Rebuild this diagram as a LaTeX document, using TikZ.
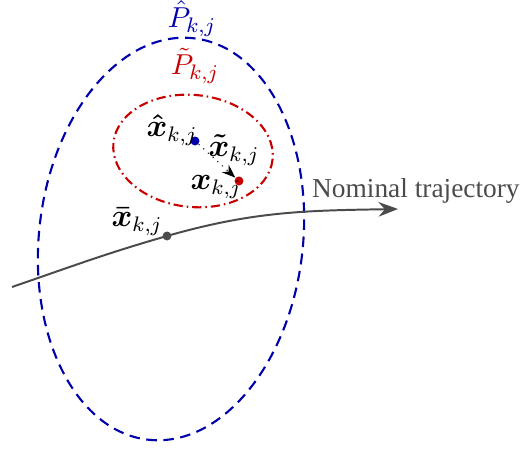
\documentclass[tikz,border=0pt]{standalone}
\usepackage{amsmath,amssymb}
\usepackage{fontspec}
\setmainfont{Liberation Serif}
\usepackage{tikz}
\usetikzlibrary{positioning,arrows.meta,calc}

\definecolor{covblue}{RGB}{0,0,170}
\definecolor{covred}{RGB}{200,0,0}
\definecolor{trajgray}{RGB}{75,75,75}

\begin{document}
\begin{tikzpicture}[
    x=0.38pt, y=-0.38pt,
    lbl/.style={inner sep=1pt, font=\large},
    setlbl/.style={inner sep=0pt, anchor=south, font=\fontsize{11}{13}\selectfont},
    dot/.style={circle, inner sep=0pt, minimum size=3.4pt},
    traj/.style={draw=trajgray, line width=0.75pt, -{Stealth[length=2.6mm]}}
]
\useasboundingbox (0,0) rectangle (523,450);
% uncertainty sets
\coordinate (cblue) at (171,239);
\coordinate (cred) at (193,151);
\draw[covblue, line width=0.8pt, dash pattern=on 4pt off 2.5pt]
    (cblue) ellipse[x radius=132, y radius=202, rotate=-6.5];
\draw[covred, line width=0.8pt, dash pattern=on 3.5pt off 1.5pt on 0.6pt off 1.5pt]
    (cred) ellipse[x radius=80, y radius=56, rotate=-6];
\node[setlbl, covblue] (Phat) at (192,37) {$\hat{P}_{k,j}$};
\node[setlbl, covred] (Ptil) at (195,84) {$\tilde{P}_{k,j}$};

% states
\node[dot, fill=covblue] (xhat) at (195,141) {};
\node[dot, fill=covred] (xtrue) at (239,181) {};
\draw[dotted, thin, -{Stealth[length=1.8mm]}] (xhat) -- (xtrue);
\node[lbl] (xhatlbl) at (172,130) {$\boldsymbol{\hat{x}}_{k,j}$};
\node[lbl] (xtil) at (234,150) {$\boldsymbol{\tilde{x}}_{k,j}$};
\node[lbl] (xlbl) at (216,187) {$\boldsymbol{x}_{k,j}$};

% nominal trajectory
\coordinate (tstart) at (12,287);
\coordinate (tend) at (398,209);
\node[dot, fill=trajgray] (xbar) at (167,236) {};
\draw[traj] (tstart) to[out=19,in=196] (xbar.center) to[out=16,in=181] (tend);
\node[lbl] (xbarlbl) at (137,222) {$\boldsymbol{\bar{x}}_{k,j}$};
\node[inner sep=1pt, trajgray, anchor=west, font=\fontsize{10.4}{12}\selectfont] (nomlbl) at (309,191) {Nominal trajectory};
\end{tikzpicture}
\end{document}
